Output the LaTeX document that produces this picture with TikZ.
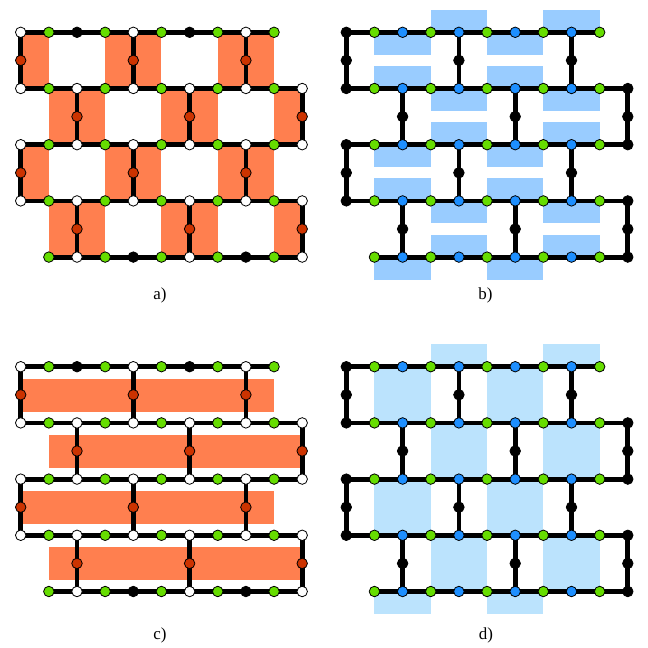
\documentclass[tikz,border=0pt]{standalone}
\usepackage{fontspec}
\setmainfont{Liberation Serif}
\definecolor{orng}{HTML}{FF7F4F}
\definecolor{rednode}{HTML}{CC3300}
\definecolor{grn}{HTML}{66DD00}
\definecolor{blu}{HTML}{1E8FFF}
\definecolor{lblue}{HTML}{99CCFF}
\definecolor{pblue}{HTML}{BBE3FD}
\pgfdeclarelayer{bg}
\pgfdeclarelayer{edges}
\pgfsetlayers{bg,edges,main}
\def\U{28.15}
\def\V{56.2}
\newcommand\latedges[1]{%
  \begin{pgfonlayer}{edges}
    \draw[edge] (#1-0-0.center) \foreach \c in {1,...,9} { -- (#1-0-\c.center) };
    \foreach \r in {1,2,3}
      \draw[edge] (#1-\r-0.center) \foreach \c in {1,...,10} { -- (#1-\r-\c.center) };
    \draw[edge] (#1-4-1.center) \foreach \c in {2,...,10} { -- (#1-4-\c.center) };
    \foreach \r/\cs in {0/{0,4,8},1/{2,6,10},2/{0,4,8},3/{2,6,10}}
      \foreach \c in \cs {
        \pgfmathtruncatemacro\rn{\r+1}
        \draw[edge] (#1-\r-\c.center) -- (#1-m\r-\c.center) -- (#1-\rn-\c.center);
      }
  \end{pgfonlayer}}
\newcommand\latA[3]{%
  \begin{scope}[shift={(#2,#3)}]
    \foreach \c/\s in {0/wv,1/gv,2/kv,3/gv,4/wv,5/gv,6/kv,7/gv,8/wv,9/gv}
      \node[\s] (#1-0-\c) at (\c*\U,0) {};
    \foreach \r in {1,2,3}
      \foreach \c/\s in {0/wv,1/gv,2/wv,3/gv,4/wv,5/gv,6/wv,7/gv,8/wv,9/gv,10/wv}
        \node[\s] (#1-\r-\c) at (\c*\U,\r*\V) {};
    \foreach \c/\s in {1/gv,2/wv,3/gv,4/kv,5/gv,6/wv,7/gv,8/kv,9/gv,10/wv}
      \node[\s] (#1-4-\c) at (\c*\U,4*\V) {};
    \foreach \r/\cs in {0/{0,4,8},1/{2,6,10},2/{0,4,8},3/{2,6,10}}
      \foreach \c in \cs
        \node[rv] (#1-m\r-\c) at (\c*\U,\r*\V+0.5*\V) {};
    \latedges{#1}
  \end{scope}}
\newcommand\latB[3]{%
  \begin{scope}[shift={(#2,#3)}]
    \foreach \c/\s in {0/kv,1/gv,2/bv,3/gv,4/bv,5/gv,6/bv,7/gv,8/bv,9/gv}
      \node[\s] (#1-0-\c) at (\c*\U,0) {};
    \foreach \r in {1,2,3}
      \foreach \c/\s in {0/kv,1/gv,2/bv,3/gv,4/bv,5/gv,6/bv,7/gv,8/bv,9/gv,10/kv}
        \node[\s] (#1-\r-\c) at (\c*\U,\r*\V) {};
    \foreach \c/\s in {1/gv,2/bv,3/gv,4/bv,5/gv,6/bv,7/gv,8/bv,9/gv,10/kv}
      \node[\s] (#1-4-\c) at (\c*\U,4*\V) {};
    \foreach \r/\cs in {0/{0,4,8},1/{2,6,10},2/{0,4,8},3/{2,6,10}}
      \foreach \c in \cs
        \node[kv] (#1-m\r-\c) at (\c*\U,\r*\V+0.5*\V) {};
    \latedges{#1}
  \end{scope}}
\begin{document}
\begin{tikzpicture}[x=1bp,y=-1bp,
  vtx/.style={circle,draw=black,line width=0.8bp,inner sep=0pt,minimum size=10.5bp},
  wv/.style={vtx,fill=white}, gv/.style={vtx,fill=grn}, kv/.style={vtx,fill=black},
  rv/.style={vtx,fill=rednode}, bv/.style={vtx,fill=blu},
  edge/.style={line width=4.8bp,black},
  lbl/.style={font=\fontsize{17}{20}\selectfont,inner sep=0pt}]
\useasboundingbox (0,0) rectangle (648,648);
% ---- panel a
\begin{pgfonlayer}{bg}
  \begin{scope}[shift={(20.7,32.3)}]
    \foreach \r/\spans in {0/{0/1,3/5,7/9},1/{1/3,5/7,9/10},2/{0/1,3/5,7/9},3/{1/3,5/7,9/10}}
      \foreach \x/\y in \spans
        \fill[orng] (\x*\U,\r*\V) rectangle (\y*\U,\r*\V+\V);
  \end{scope}
  % ---- panel c
  \begin{scope}[shift={(20.7,366.7)}]
    \foreach \r/\x/\y in {0/0/9,1/1/10,2/0/9,3/1/10}
      \fill[orng] (\x*\U,\r*\V+0.21*\V) rectangle (\y*\U,\r*\V+0.8*\V);
  \end{scope}
  % ---- panel b
  \begin{scope}[shift={(346.3,32.3)}]
    \foreach \r in {0,2,4} {
      \foreach \x in {3,7} \fill[lblue] (\x*\U,\r*\V-0.4*\V) rectangle (\x*\U+2*\U,\r*\V);
      \foreach \x in {1,5} \fill[lblue] (\x*\U,\r*\V) rectangle (\x*\U+2*\U,\r*\V+0.4*\V);
    }
    \foreach \r in {1,3} {
      \foreach \x in {1,5} \fill[lblue] (\x*\U,\r*\V-0.4*\V) rectangle (\x*\U+2*\U,\r*\V);
      \foreach \x in {3,7} \fill[lblue] (\x*\U,\r*\V) rectangle (\x*\U+2*\U,\r*\V+0.4*\V);
    }
  \end{scope}
  % ---- panel d
  \begin{scope}[shift={(346.3,366.7)}]
    \foreach \x in {3,7} \fill[pblue] (\x*\U,-0.4*\V) rectangle (\x*\U+2*\U,0);
    \foreach \r in {0,2} \foreach \x in {1,5}
      \fill[pblue] (\x*\U,\r*\V) rectangle (\x*\U+2*\U,\r*\V+\V);
    \foreach \r in {1,3} \foreach \x in {3,7}
      \fill[pblue] (\x*\U,\r*\V) rectangle (\x*\U+2*\U,\r*\V+\V);
    \foreach \x in {1,5} \fill[pblue] (\x*\U,4*\V) rectangle (\x*\U+2*\U,4.4*\V);
  \end{scope}
\end{pgfonlayer}
\latA{a}{20.7}{32.3}
\latB{b}{346.3}{32.3}
\latA{c}{20.7}{366.7}
\latB{d}{346.3}{366.7}
\node[lbl] (la) at (160,295) {a)};
\node[lbl] (lb) at (485.5,295) {b)};
\node[lbl] (lc) at (160,635) {c)};
\node[lbl] (ld) at (486,635) {d)};
\end{tikzpicture}
\end{document}
